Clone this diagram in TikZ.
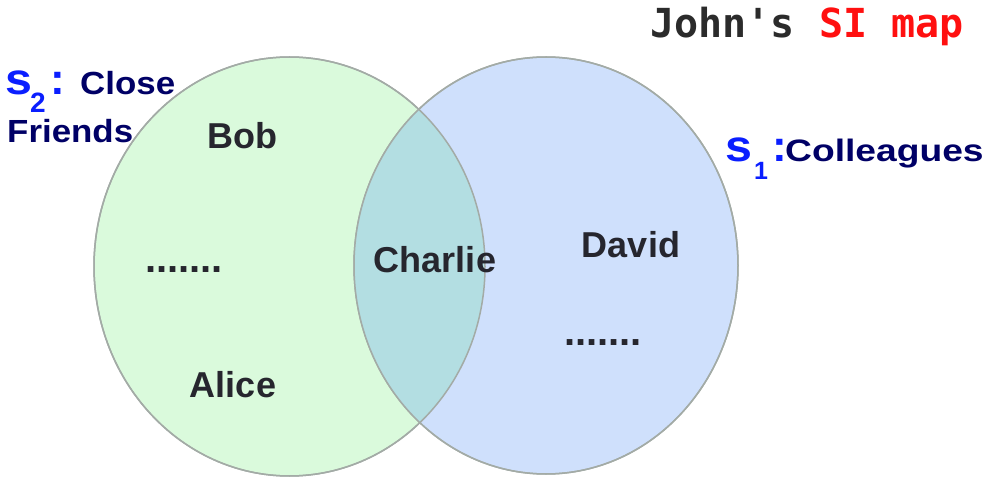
\documentclass[tikz,border=0pt]{standalone}
\usepackage{fontspec}
\setmainfont{Liberation Sans}
\newfontfamily\titlefont{DejaVu Sans Mono}
\usetikzlibrary{shapes.geometric}

\definecolor{friendfill}{HTML}{DAFADC}
\definecolor{colleaguefill}{HTML}{CFE0FC}
\definecolor{bothfill}{HTML}{B3DEE2}
\definecolor{rimgray}{HTML}{A3ABA6}
\definecolor{namegray}{HTML}{26262E}
\definecolor{labelnavy}{HTML}{000066}
\definecolor{setblue}{HTML}{0A1EFF}
\definecolor{titledark}{HTML}{2B2B2B}
\definecolor{titlered}{HTML}{FF1010}

\tikzset{
  setshape/.style={ellipse, inner sep=0pt, draw=rimgray, line width=1.5pt},
  member/.style={anchor=base, inner sep=0pt, text=namegray,
    font=\fontsize{36}{40}\selectfont\bfseries},
  dotrow/.style={member, font=\fontsize{40}{44}\selectfont\bfseries},
  setlabel/.style={anchor=base west, inner sep=0pt, text=labelnavy,
    font=\fontsize{32}{36}\selectfont\bfseries},
  setletter/.style={anchor=base west, inner sep=0pt, text=setblue,
    font=\fontsize{44}{46}\selectfont\bfseries},
  setindex/.style={anchor=base west, inner sep=0pt, text=setblue,
    font=\fontsize{28}{30}\selectfont\bfseries},
  titletext/.style={anchor=base west, inner sep=0pt,
    font=\fontsize{40}{44}\titlefont\bfseries},
}

\begin{document}
\begin{tikzpicture}[x=1pt, y=-1pt]
  \useasboundingbox (0,0) rectangle (988,478);

  % the two sets
  \node[setshape, fill=friendfill, minimum width=391pt, minimum height=419pt]
    (friends) at (289.5,266.5) {};
  \node[setshape, fill=colleaguefill, minimum width=384pt, minimum height=417pt]
    (colleagues) at (546,265.5) {};

  % shared part
  \begin{scope}
    \clip (289.5,266.5) ellipse [x radius=195.5pt, y radius=209.5pt];
    \fill[bothfill] (546,265.5) ellipse [x radius=192pt, y radius=208.5pt];
  \end{scope}
  \draw[rimgray, line width=1.5pt] (289.5,266.5) ellipse [x radius=195.5pt, y radius=209.5pt];
  \draw[rimgray, line width=1.5pt] (546,265.5) ellipse [x radius=192pt, y radius=208.5pt];

  % members
  \node[member] (bob) at (242,149) {Bob};
  \node[dotrow] (dotsleft) at (184,273) {.......};
  \node[member] (alice) at (233,397) {Alice};
  \node[member] (charlie) at (435,273) {Charlie};
  \node[member] (david) at (631,258) {David};
  \node[dotrow] (dotsright) at (603,345) {.......};

  % set labels
  \node[setletter] (s2) at (5,95) {\scalebox{1.1}[1]{s}};
  \node[setindex] (s2idx) at (30,113) {2};
  \node[setletter] (s2colon) at (50,95) {:};
  \node[setlabel] (close) at (80,95) {\scalebox{1.09}[1]{Close}};
  \node[setlabel] (friendsword) at (7,143) {\scalebox{1.09}[1]{Friends}};

  \node[setletter] (s1) at (725,162) {\scalebox{1.1}[1]{s}};
  \node[setindex, font=\fontsize{25}{28}\selectfont\bfseries] (s1idx) at (754,180) {1};
  \node[setletter] (s1colon) at (772,162) {:};
  \node[setlabel, font=\fontsize{31}{34}\selectfont\bfseries] (colleagueword) at (785,162)
    {\scalebox{1.2}[1]{Colleagues}};

  % title
  \node[titletext, text=titledark] (owner) at (650,38) {John's};
  \node[titletext, text=titlered, anchor=base west] (mapname) at (owner.base east) {\ SI map};
\end{tikzpicture}
\end{document}
